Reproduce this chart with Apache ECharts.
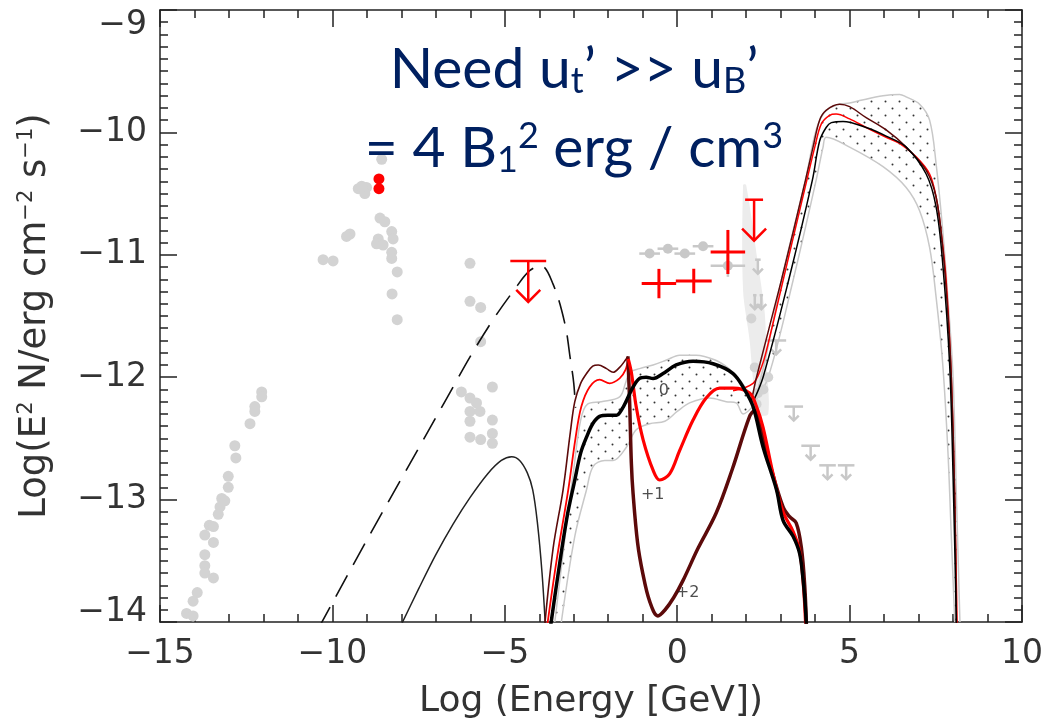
<!DOCTYPE html>
<html><head><meta charset="utf-8">
<script src="https://cdn.jsdelivr.net/npm/echarts@6/dist/echarts.min.js"></script>
<style>html,body{margin:0;padding:0;background:#fff}#c{width:1046px;height:728px}</style>
</head><body><div id="c"></div>
<script>
// ---------- axis ranges / ticks ----------
const xRange = [-15, 10];
const yRange = [-14, -9];
const xMajor = 5;
const yMajor = 1;

// ---------- data ----------
const grayRadio = [[-12.05,-12.12],[-12.05,-12.16],[-12.25,-12.24],[-12.25,-12.28],[-12.39,-12.38],[-12.83,-12.56],[-12.80,-12.66],[-13.02,-12.81],[-13.02,-12.90],[-13.21,-12.99],[-13.12,-13.01],[-13.26,-13.06],[-13.31,-13.12],[-13.57,-13.21],[-13.45,-13.22],[-13.70,-13.29],[-13.45,-13.35],[-13.70,-13.45],[-13.70,-13.54],[-13.70,-13.60],[-13.45,-13.64],[-13.92,-13.76],[-14.04,-13.83],[-14.23,-13.93],[-14.04,-13.95]];
const grayOptical = [[-8.57,-10.22],[-9.25,-10.46],[-9.01,-10.45],[-9.06,-10.50],[-9.15,-10.44],[-8.62,-10.70],[-8.48,-10.73],[-9.49,-10.83],[-9.59,-10.85],[-8.67,-10.87],[-8.28,-10.81],[-8.24,-10.87],[-8.72,-10.91],[-8.53,-10.92],[-8.28,-10.98],[-8.28,-11.03],[-10.27,-11.04],[-9.98,-11.05],[-8.12,-11.14],[-8.27,-11.32],[-8.12,-11.53]];
const grayXray = [[-6.01,-11.07],[-6.01,-11.38],[-5.70,-11.43],[-5.70,-11.71],[-5.36,-12.08],[-6.26,-12.12],[-6.01,-12.17],[-5.82,-12.21],[-6.01,-12.28],[-5.72,-12.28],[-6.01,-12.36],[-5.36,-12.35],[-5.36,-12.46],[-6.01,-12.49],[-5.70,-12.51],[-5.36,-12.54]];
const grayTeV = [[2.15,-11.52],[2.25,-11.92],[2.64,-12.0],[2.34,-12.13],[2.30,-12.22],[2.50,-12.10]];
const redOptical = [[-8.65,-10.38],[-8.65,-10.46]];

// [x, y, xerr, yerr]
const grayErrPts = [[-0.80,-10.99,0.3,0],[-0.27,-10.95,0.3,0],[0.22,-10.99,0.3,0],[0.75,-10.93,0.3,0],[1.47,-11.09,0.5,0.09]];
const redCrosses = [[-0.53,-11.235,0.5,0.12],[0.48,-11.214,0.52,0.10],[1.47,-10.977,0.5,0.18]];
// upper limits [x, y, xerr]
const redLimits = [[-4.32,-11.05,0.52],[2.23,-10.55,0.26]];
const grayLimits = [[2.34,-11.04,0.08],[2.25,-11.33,0.05],[2.44,-11.33,0.05],[2.87,-11.70,0.29],[3.38,-12.24,0.27],[3.87,-12.56,0.27],[4.36,-12.72,0.24],[4.90,-12.72,0.24]];

const syncDashed = [[-10.4,-14.05],[-9,-13.33],[-8,-12.83],[-7,-12.33],[-6.5,-12.08],[-6.0,-11.83],[-5.34,-11.53],[-4.71,-11.28],[-4.28,-11.13],[-3.95,-11.09],[-3.6,-11.24],[-3.26,-11.56],[-3.1,-11.85],[-3.0,-12.05],[-2.95,-12.25]];
const syncSolid = [[-8.05,-14.05],[-7.5,-13.73],[-7,-13.45],[-6.5,-13.2],[-6,-12.98],[-5.5,-12.79],[-5.1,-12.68],[-4.8,-12.65],[-4.57,-12.68],[-4.35,-12.78],[-4.19,-12.92],[-4.05,-13.2],[-3.92,-13.6],[-3.82,-14.05]];

const model0 = [[-3.68,-14.05],[-3.45,-13.6],[-3.2,-13.15],[-2.97,-12.84],[-2.8,-12.62],[-2.63,-12.49],[-2.45,-12.38],[-2.25,-12.32],[-2.01,-12.31],[-1.76,-12.31],[-1.6,-12.26],[-1.47,-12.19],[-1.28,-12.08],[-1.09,-12.01],[-0.9,-12.0],[-0.7,-12.01],[-0.41,-11.97],[-0.03,-11.90],[0.46,-11.87],[1.04,-11.89],[1.62,-11.97],[1.95,-12.1],[2.2,-12.24],[2.49,-12.57],[2.88,-12.92],[3.07,-13.17],[3.36,-13.30],[3.55,-13.44],[3.65,-13.65],[3.71,-13.85],[3.75,-14.05]];
const model1Low = [[-3.78,-14.05],[-3.5,-13.5],[-3.16,-12.92],[-2.95,-12.5],[-2.78,-12.24],[-2.54,-12.08],[-2.25,-12.02],[-1.96,-12.05],[-1.67,-12.01],[-1.5,-11.94],[-1.42,-11.85]];
const model1High = [[-1.42,-11.85],[-1.33,-11.96],[-1.19,-12.24],[-0.99,-12.51],[-0.7,-12.76],[-0.51,-12.84],[-0.22,-12.79],[0.07,-12.6],[0.46,-12.35],[0.84,-12.17],[1.23,-12.09],[1.62,-12.09],[2.1,-12.13],[2.3,-12.24],[2.49,-12.41],[2.78,-12.79],[3.07,-13.1],[3.36,-13.26],[3.55,-13.42],[3.66,-13.7],[3.73,-14.05]];
const model2Low = [[-3.85,-14.05],[-3.6,-13.4],[-3.31,-12.92],[-3.1,-12.45],[-2.97,-12.2],[-2.8,-12.05],[-2.63,-11.97],[-2.45,-11.91],[-2.29,-11.90],[-2.05,-11.93],[-1.86,-11.96],[-1.67,-11.92],[-1.5,-11.86],[-1.43,-11.83]];
const model2High = [[-1.43,-11.83],[-1.38,-12.2],[-1.33,-12.7],[-1.28,-12.95],[-1.15,-13.35],[-1.0,-13.6],[-0.8,-13.83],[-0.56,-13.95],[-0.35,-13.9],[-0.1,-13.8],[0.17,-13.66],[0.6,-13.4],[1.13,-13.11],[1.6,-12.75],[2.1,-12.32],[2.25,-12.27],[2.45,-12.45],[2.68,-12.70],[3.07,-13.06],[3.26,-13.14],[3.45,-13.19],[3.6,-13.39],[3.7,-13.71],[3.75,-14.05]];

const hump0 = [[2.2,-12.2],[2.49,-12.0],[3.23,-11.21],[3.92,-10.39],[4.13,-10.07],[4.32,-9.96],[4.47,-9.92],[4.81,-9.91],[5.48,-9.96],[6.06,-10.03],[6.64,-10.12],[7.22,-10.34],[7.51,-10.61],[7.70,-11.07],[7.90,-11.89],[8.0,-12.8],[8.1,-14.05]];
const hump1 = [[1.62,-12.11],[2.2,-12.05],[2.44,-11.92],[2.59,-11.78],[3.07,-11.21],[3.76,-10.39],[3.99,-10.12],[4.18,-9.93],[4.42,-9.86],[4.61,-9.85],[5.0,-9.89],[5.48,-9.96],[6.06,-10.04],[6.45,-10.09],[6.93,-10.2],[7.32,-10.34],[7.51,-10.53],[7.65,-10.80],[7.80,-11.21],[7.95,-12.0],[8.05,-13.0],[8.12,-14.05]];
const hump2 = [[2.15,-12.2],[2.30,-12.0],[3.02,-11.21],[3.72,-10.39],[3.94,-10.12],[4.13,-9.90],[4.32,-9.82],[4.71,-9.77],[5.0,-9.79],[5.48,-9.88],[6.06,-9.98],[6.64,-10.12],[7.22,-10.31],[7.51,-10.53],[7.70,-10.94],[7.85,-11.48],[7.95,-12.0],[8.05,-13.0],[8.1,-14.05]];

const midBandUpper = [[-3.55,-14],[-3.25,-13.3],[-3.0,-12.75],[-2.8,-12.35],[-2.6,-12.22],[-2.2,-12.2],[-1.67,-12.16],[-1.5,-12.05],[-1.38,-11.96],[-1.09,-11.93],[-0.7,-11.90],[-0.31,-11.86],[0.07,-11.82],[0.55,-11.82],[1.1,-11.86],[1.5,-11.93],[1.81,-12.02],[2.05,-12.12],[2.25,-12.22]];
const midBandLower = [[-3.36,-14],[-2.97,-13.3],[-2.63,-12.92],[-2.44,-12.73],[-2.1,-12.68],[-1.86,-12.68],[-1.47,-12.57],[-1.19,-12.43],[-0.8,-12.38],[-0.36,-12.36],[0.0,-12.28],[0.36,-12.21],[0.94,-12.17],[1.42,-12.2],[1.71,-12.21],[1.91,-12.3],[2.25,-12.22]];
const humpBandUpper = [[2.25,-12.2],[2.6,-11.8],[3.02,-11.21],[3.72,-10.39],[4.03,-9.98],[4.32,-9.82],[4.71,-9.77],[5.0,-9.76],[5.29,-9.74],[5.97,-9.70],[6.45,-9.69],[6.64,-9.71],[7.03,-9.77],[7.32,-9.90],[7.51,-10.26],[7.70,-10.80],[7.85,-11.35],[8.0,-12.0],[8.1,-13],[8.2,-14]];
const humpBandLower = [[2.25,-12.2],[2.64,-12.0],[3.36,-11.21],[4.03,-10.39],[4.23,-10.12],[4.32,-10.04],[5.0,-10.12],[5.97,-10.28],[6.64,-10.45],[7.03,-10.64],[7.32,-10.94],[7.51,-11.35],[7.7,-11.89],[7.85,-12.6],[7.95,-13.3],[8.05,-14]];
const bowtie = [[1.91,-10.43],[2.0,-10.43],[2.34,-11.07],[2.54,-11.48],[2.59,-11.89],[2.64,-12.30],[2.34,-12.30],[2.2,-12.02],[2.1,-11.70],[1.91,-11.29]];

const modelNames = ['0', '+1', '+2'];
const modelNamePos = [[-0.39,-12.11],[-0.71,-12.96],[0.30,-13.76]];

// ---------- styling ----------
const AX = '#222', TXT = '#333', GRAY = '#d3d3d3', GLINE = '#c8c8c8', DRED = '#5c0a0a', RED = '#ff0000';
const FONT = 'DejaVu Sans';

function dotPattern(){
  const c = document.createElement('canvas'); c.width = 14; c.height = 14;
  const g = c.getContext('2d'); g.fillStyle = '#333';
  [[3.5,3.5],[10.5,10.5]].forEach(p => { g.beginPath(); g.arc(p[0], p[1], 1.0, 0, 7); g.fill(); });
  return c;
}
const pattern = {image: dotPattern(), repeat: 'repeat'};

function lineS(data, color, width, z, dashed){
  return {type:'line', data, showSymbol:false, symbol:'none', smooth:0.35, z: z||3, silent:true,
    lineStyle:{color, width, type: dashed ? [24,12] : 'solid'}, clip:true};
}
function polyS(points, fill, stroke, lw, z){
  return {type:'custom', z: z||1, silent:true, clip:true, data:[points[0]],
    renderItem:(p, api) => ({type:'polygon', shape:{points: points.map(q => api.coord(q)), smooth:0.3},
      style:{fill, stroke: stroke||null, lineWidth: lw||0}})};
}
function scatterS(data, color, size, z){
  return {type:'scatter', data, symbolSize:size, itemStyle:{color, opacity:1}, z: z||2, silent:true};
}
function crossS(data, color, lw, dot, z){
  return {type:'custom', z: z||4, silent:true, data,
    renderItem:(p, api) => {
      const x = api.value(0), y = api.value(1), dx = api.value(2), dy = api.value(3);
      const l = api.coord([x-dx, y]), r = api.coord([x+dx, y]);
      const ch = [{type:'line', shape:{x1:l[0], y1:l[1], x2:r[0], y2:r[1]}, style:{stroke:color, lineWidth:lw}}];
      if (dy > 0){ const t = api.coord([x, y+dy]), b = api.coord([x, y-dy]);
        ch.push({type:'line', shape:{x1:t[0], y1:t[1], x2:b[0], y2:b[1]}, style:{stroke:color, lineWidth:lw}}); }
      if (dot){ const c = api.coord([x, y]); ch.push({type:'circle', shape:{cx:c[0], cy:c[1], r:dot}, style:{fill:color}}); }
      return {type:'group', children: ch};
    }};
}
function limitS(data, color, lw, len, head, z){
  return {type:'custom', z: z||4, silent:true, data,
    renderItem:(p, api) => {
      const x = api.value(0), y = api.value(1), dx = api.value(2);
      const l = api.coord([x-dx, y]), r = api.coord([x+dx, y]), c = api.coord([x, y]);
      const tipY = c[1] + len;
      const st = {stroke:color, lineWidth:lw};
      return {type:'group', children:[
        {type:'line', shape:{x1:l[0], y1:l[1], x2:r[0], y2:r[1]}, style:st},
        {type:'line', shape:{x1:c[0], y1:c[1], x2:c[0], y2:tipY}, style:st},
        {type:'polyline', shape:{points:[[c[0]-head, tipY-head],[c[0], tipY],[c[0]+head, tipY-head]]}, style:{stroke:color, lineWidth:lw, fill:null}}
      ]};
    }};
}

const axisCommon = {
  min: xRange[0], max: xRange[1], interval: xMajor,
  axisLine:{show:true, onZero:false, lineStyle:{color:AX, width:1.5}},
  axisTick:{show:true, inside:true, length:17, lineStyle:{color:AX, width:1.5}},
  minorTick:{show:true, splitNumber:5, length:8, lineStyle:{color:AX, width:1.5}},
  splitLine:{show:false}, minorSplitLine:{show:false}
};
const yCommon = {
  min: yRange[0], max: yRange[1], interval: yMajor,
  axisLine:{show:true, onZero:false, lineStyle:{color:AX, width:1.5}},
  axisTick:{show:true, inside:true, length:17, lineStyle:{color:AX, width:1.5}},
  minorTick:{show:true, splitNumber:10, length:8, lineStyle:{color:AX, width:1.5}},
  splitLine:{show:false}, minorSplitLine:{show:false}
};
const fmtNum = v => v < 0 ? '\u2212' + Math.abs(v) : String(v);

const chart = echarts.init(document.getElementById('c'), null, {renderer:'canvas'});
chart.setOption({
  animation:false,
  backgroundColor:'#fff',
  grid:{left:160, right:23, top:10, bottom:106, containLabel:false},
  xAxis:[
    Object.assign({type:'value', position:'bottom', name:'Log (Energy [GeV])', nameLocation:'middle', nameGap:62,
      nameTextStyle:{fontFamily:FONT, fontSize:36, color:TXT},
      axisLabel:{show:true, formatter:fmtNum, fontFamily:FONT, fontSize:33, color:TXT, margin:16}}, axisCommon),
    Object.assign({type:'value', position:'top', axisLabel:{show:false}}, axisCommon)
  ],
  yAxis:[
    Object.assign({type:'value', position:'left', name:'Log(E{s|2} N/erg cm{s|\u22122} s{s|\u22121})', nameLocation:'middle', nameGap:106,
      nameTextStyle:{fontFamily:FONT, fontSize:37, color:TXT, rich:{s:{fontFamily:FONT, fontSize:21, color:TXT, padding:[0,0,17,0]}}},
      axisLabel:{show:true, fontFamily:FONT, fontSize:33, color:TXT, margin:13,
        formatter: v => v === yRange[1] ? '{t|' + fmtNum(v) + '}' : (v === yRange[0] ? '{b|' + fmtNum(v) + '}' : fmtNum(v)),
        rich:{t:{fontFamily:FONT, fontSize:33, color:TXT, padding:[30,0,0,0]}, b:{fontFamily:FONT, fontSize:33, color:TXT, padding:[0,0,20,0]}}}}, yCommon),
    Object.assign({type:'value', position:'right', axisLabel:{show:false}}, yCommon)
  ],
  graphic:[{type:'text', x:574, y:30, z:10, silent:true,
    style:{text:'Need u{sb|t}\u2019 >> u{sb|B}\u2019\n= 4 B{sb|1}{sp|2} erg / cm{sp|3}', align:'center', verticalAlign:'top',
      fill:'#002060', fontFamily:'Lato', fontSize:57, lineHeight:79,
      rich:{sb:{fontFamily:'Lato', fontSize:36, fill:'#002060', lineHeight:79, padding:[24,0,0,0]},
            sp:{fontFamily:'Lato', fontSize:36, fill:'#002060', lineHeight:79, padding:[0,0,24,0]}}}}],
  series:[
    polyS(midBandUpper.concat(midBandLower.slice().reverse()), pattern, null, 0, 1),
    polyS(humpBandUpper.concat(humpBandLower.slice().reverse()), pattern, null, 0, 1),
    polyS(bowtie, '#ececec', null, 0, 1),
    lineS(midBandUpper, GLINE, 1.5, 2), lineS(midBandLower, GLINE, 1.5, 2),
    lineS(humpBandUpper, GLINE, 1.5, 2), lineS(humpBandLower, GLINE, 1.5, 2),
    scatterS(grayRadio, GRAY, 11), scatterS(grayOptical, GRAY, 11), scatterS(grayXray, GRAY, 11), scatterS(grayTeV, GRAY, 10),
    crossS(grayErrPts, GLINE, 2.5, 5, 2),
    limitS(grayLimits, GLINE, 2.5, 14, 5, 2),
    scatterS(redOptical, RED, 11, 3),
    lineS(syncDashed, '#111', 1.6, 3, true),
    lineS(syncSolid, '#222', 1.5, 3),
    lineS(hump1, RED, 1.5, 3), lineS(hump2, DRED, 1.5, 3), lineS(hump0, '#000', 1.5, 3),
    lineS(model2Low, DRED, 1.6, 3), lineS(model1Low, RED, 1.8, 3),
    lineS(model2High, DRED, 3.5, 3), lineS(model1High, RED, 3.2, 3), lineS(model0, '#000', 3.5, 3),
    crossS(redCrosses, RED, 3, 0, 5),
    limitS(redLimits, RED, 2.5, 41, 12, 5),
    {type:'scatter', data: modelNamePos, symbolSize:1, itemStyle:{color:'rgba(0,0,0,0)'}, z:6, silent:true,
      label:{show:true, position:'inside', formatter: p => modelNames[p.dataIndex], fontFamily:FONT, fontSize:16, color:'#222'}}
  ]
});
</script></body></html>
